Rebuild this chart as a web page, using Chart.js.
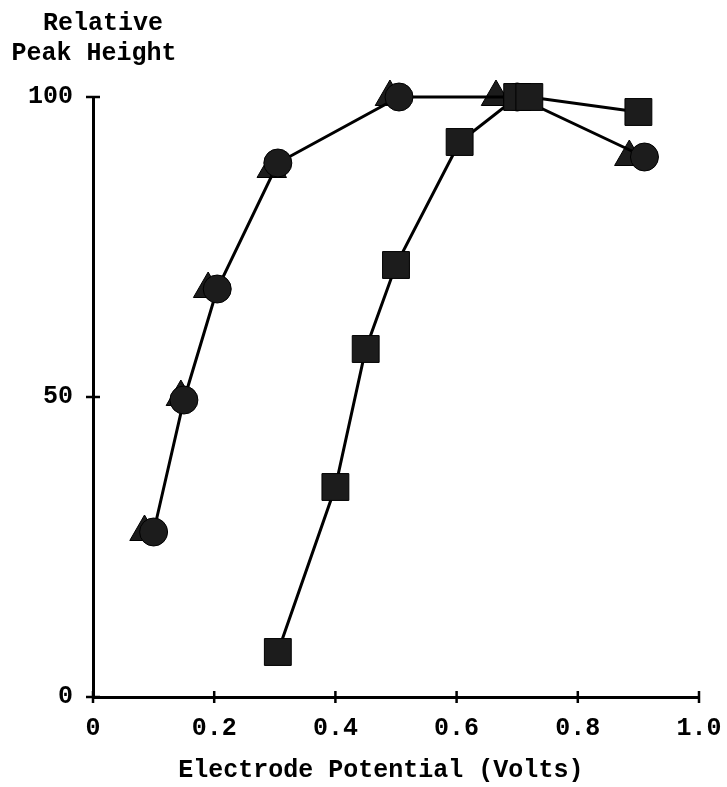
<!DOCTYPE html>
<html>
<head>
<meta charset="utf-8">
<script src="https://cdn.jsdelivr.net/npm/chart.js@4"></script>
<style>
  html, body { margin: 0; padding: 0; background: #fff; overflow: hidden; }
  #wrap { width: 727px; height: 787px; }
  canvas { display: block; }
</style>
</head>
<body>
<div id="wrap"><canvas id="chart"></canvas></div>
<script>
// values
const circleX = [0.1, 0.15, 0.205, 0.305, 0.505, 0.7, 0.91];
const circleY = [27.5, 49.5, 68, 89, 100, 100, 90];
const triangleX = [0.085, 0.145, 0.19, 0.295, 0.49, 0.665, 0.885];
const triangleY = [27.5, 50, 68, 88, 100, 100, 90];
const squareX = [0.305, 0.4, 0.45, 0.5, 0.605, 0.7, 0.72, 0.9];
const squareY = [7.5, 35, 58, 72, 92.5, 100, 100, 97.5];

const xTickValues = [0, 0.2, 0.4, 0.6, 0.8, 1.0];
const xTickLabels = ['0', '0.2', '0.4', '0.6', '0.8', '1.0'];
const yTickValues = [0, 50, 100];
const yTickLabels = ['0', '50', '100'];

const yTitle = ['Relative', 'Peak Height'];
const xTitle = 'Electrode Potential (Volts)';

const fontFamily = '"Liberation Mono", "DejaVu Sans Mono", monospace';
const font = { family: fontFamily, size: 25, weight: 'bold' };

function toPoints(xs, ys) {
    return xs.map((x, i) => ({ x: x, y: ys[i] }));
}

function makeSet(label, xs, ys, style, radius, withLine, order) {
    return {
        label: label,
        data: toPoints(xs, ys),
        pointStyle: style,
        pointRadius: radius,
        pointBackgroundColor: '#1c1c1c',
        pointBorderColor: '#000',
        pointBorderWidth: 1,
        borderColor: '#000',
        borderWidth: 3,
        showLine: withLine,
        fill: false,
        clip: false,
        order: order
    };
}

// cross ticks on the axes, y title above the axis, x title
const axisExtras = {
    id: 'axisExtras',
    afterDraw(chart) {
        const ctx = chart.ctx;
        const x = chart.scales.x;
        const y = chart.scales.y;
        const x0 = x.getPixelForValue(0);
        const y0 = y.getPixelForValue(0);
        ctx.save();
        ctx.strokeStyle = '#000';
        ctx.lineWidth = 2.5;
        x.ticks.forEach(t => {
            const px = x.getPixelForValue(t.value);
            ctx.beginPath();
            ctx.moveTo(px, y0 - 6);
            ctx.lineTo(px, y0 + 6);
            ctx.stroke();
        });
        y.ticks.forEach(t => {
            const py = y.getPixelForValue(t.value);
            ctx.beginPath();
            ctx.moveTo(x0 - 7, py);
            ctx.lineTo(x0 + 7, py);
            ctx.stroke();
        });
        ctx.fillStyle = '#000';
        ctx.font = 'bold 25px ' + fontFamily;
        ctx.textAlign = 'center';
        ctx.textBaseline = 'middle';
        ctx.fillText(yTitle[0], x0 + 10, 24);
        ctx.fillText(yTitle[1], x0 + 1, 54);
        ctx.fillText(xTitle, x.getPixelForValue(0.475), 771);
        ctx.restore();
    }
};

new Chart(document.getElementById('chart'), {
    type: 'scatter',
    data: {
        datasets: [
            makeSet('circle', circleX, circleY, 'circle', 14, true, 1),
            makeSet('triangle', triangleX, triangleY, 'triangle', 17, false, 2),
            makeSet('square', squareX, squareY, 'rect', 19, true, 0)
        ]
    },
    options: {
        responsive: true,
        maintainAspectRatio: false,
        animation: false,
        layout: { padding: { top: 97, right: 28, left: 0, bottom: 0 } },
        plugins: {
            legend: { display: false },
            tooltip: { enabled: false }
        },
        scales: {
            x: {
                type: 'linear',
                min: 0,
                max: 1,
                afterBuildTicks: s => { s.ticks = xTickValues.map(v => ({ value: v })); },
                afterFit: s => { s.height = 90; s.paddingLeft = 0; s.paddingRight = 0; },
                grid: { display: false },
                border: { display: true, color: '#000', width: 3 },
                ticks: {
                    color: '#000',
                    font: font,
                    padding: 9,
                    maxRotation: 0,
                    callback: (v, i) => xTickLabels[i]
                }
            },
            y: {
                type: 'linear',
                min: 0,
                max: 100,
                afterBuildTicks: s => { s.ticks = yTickValues.map(v => ({ value: v })); },
                afterFit: s => { s.width = 93; s.paddingTop = 0; s.paddingBottom = 0; },
                grid: { display: false },
                border: { display: true, color: '#000', width: 3 },
                ticks: {
                    color: '#000',
                    font: font,
                    padding: 12,
                    callback: (v, i) => yTickLabels[i]
                }
            }
        }
    },
    plugins: [axisExtras]
});
</script>
</body>
</html>
